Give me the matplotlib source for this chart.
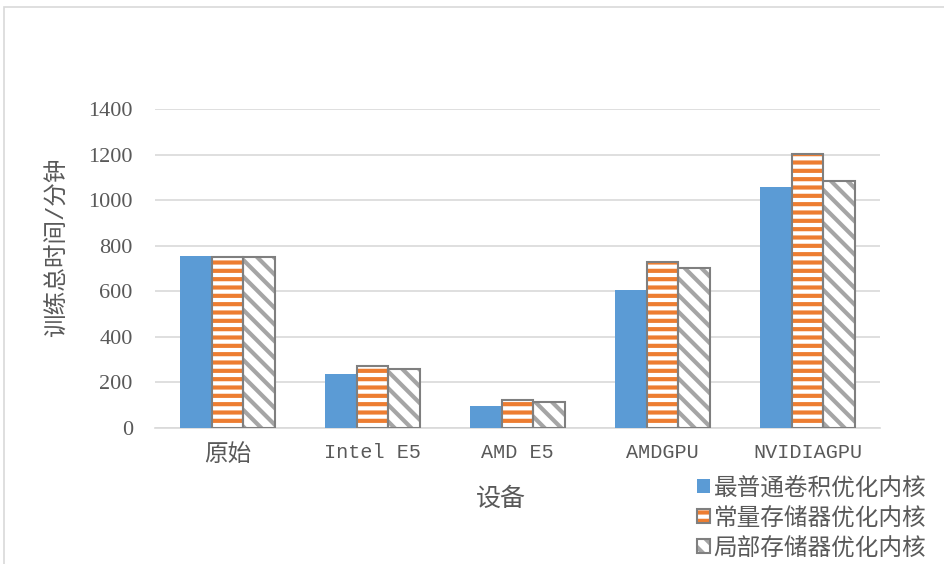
import matplotlib.pyplot as plt
import numpy as np
from matplotlib.patches import Patch, Rectangle

# data
devices = ['原始', 'Intel E5', 'AMD E5', 'AMDGPU', 'NVIDIAGPU']
basic = [755, 237, 97, 605, 1059]
const_mem = [750, 272, 123, 730, 1202]
local_mem = [752, 259, 114, 703, 1084]
series_names = ['最普通卷积优化内核', '常量存储器优化内核', '局部存储器优化内核']
yticks = [0, 200, 400, 600, 800, 1000, 1200, 1400]

blue = '#5b9bd5'
orange = '#ed7d31'
hatch_gray = '#a5a5a5'
border = '#7f7f7f'
text_c = '#595959'
cjk = ['Liberation Mono', 'Noto Sans CJK SC', 'DejaVu Sans']

plt.rcParams['hatch.linewidth'] = 3.0

fig = plt.figure(figsize=(9.44, 5.64), dpi=100)
ax = fig.add_axes([155 / 944, 136 / 564, 725 / 944, 319 / 564])

x = np.arange(len(devices))
w = 0.22

# plain blue bars
ax.bar(x - w, basic, w, color=blue, linewidth=0, zorder=3)

# orange horizontal stripes
ax.bar(x, const_mem, w, color='white', edgecolor=orange, hatch='--', linewidth=0, zorder=3)
ax.bar(x, const_mem, w, fill=False, edgecolor=border, linewidth=1.5, zorder=4)

# gray diagonal stripes
ax.bar(x + w, local_mem, w, color='white', edgecolor=hatch_gray, hatch='\\\\', linewidth=0, zorder=3)
ax.bar(x + w, local_mem, w, fill=False, edgecolor=border, linewidth=1.5, zorder=4)

ax.set_xlim(-0.5, len(devices) - 0.5)
ax.set_ylim(0, 1400)
ax.set_yticks(yticks)
ax.set_yticklabels([str(v) for v in yticks], family='Liberation Serif', fontsize=16, color=text_c)
ax.set_xticks(x)
ax.set_xticklabels(devices, family=cjk, fontsize=14.5, color=text_c)
ax.get_xticklabels()[0].set_fontsize(17)
ax.tick_params(length=0)
ax.tick_params(axis='y', pad=16)
ax.tick_params(axis='x', pad=11)
ax.grid(axis='y', color='#d9d9d9', linewidth=1.2, zorder=0)
for s in ['top', 'right', 'left']:
    ax.spines[s].set_visible(False)
ax.spines['bottom'].set_color('#d9d9d9')
ax.spines['bottom'].set_linewidth(1.2)

fig.text(57 / 944, 1 - 247 / 564, '训练总时间/分钟', rotation=90, ha='center', va='center',
         family=cjk, fontsize=17, color=text_c)
fig.text(501 / 944, 1 - 499 / 564, '设备', ha='center', va='center',
         family=cjk, fontsize=18, color=text_c)

# legend with hatched swatches
h1 = Patch(facecolor=blue, linewidth=0)
h2 = (Patch(facecolor='white', edgecolor=orange, hatch='--', linewidth=0),
      Patch(fill=False, edgecolor=border, linewidth=1.5))
h3 = (Patch(facecolor='white', edgecolor=hatch_gray, hatch='\\\\', linewidth=0),
      Patch(fill=False, edgecolor=border, linewidth=1.5))
leg = fig.legend([h1, h2, h3], series_names, loc='center left',
                 bbox_to_anchor=(697 / 944, 1 - 518 / 564), frameon=False,
                 prop={'family': cjk, 'size': 17}, handlelength=0.55, handleheight=0.55,
                 handletextpad=0.15, labelspacing=0.3, borderaxespad=0, borderpad=0)
for t in leg.get_texts():
    t.set_color(text_c)

# outer chart frame
fig.patches.append(Rectangle((4 / 944, -0.1), 1.2, 1 - 7 / 564 + 0.1, transform=fig.transFigure,
                             fill=False, edgecolor='#d9d9d9', linewidth=1.2))

fig.savefig('out.png', dpi=100)
